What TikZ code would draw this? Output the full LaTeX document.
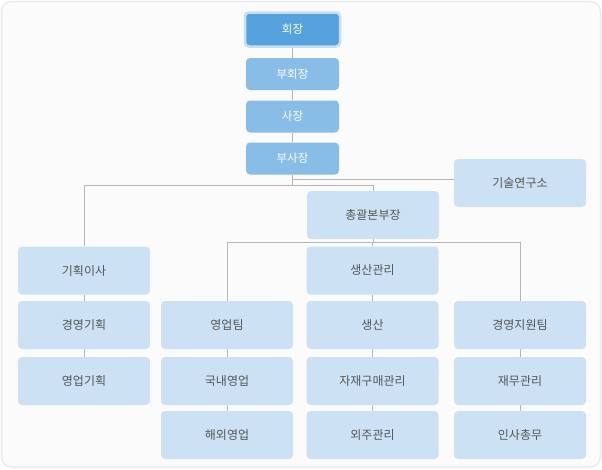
\documentclass[tikz,border=0pt]{standalone}
\usepackage{fontspec}
\newfontfamily\kr{Noto Sans CJK KR}
\definecolor{pagebg}{HTML}{FBFBFC}
\definecolor{frame}{HTML}{EBEBEB}
\definecolor{lightbox}{HTML}{CCE2F4}
\definecolor{midbox}{HTML}{88BDE7}
\definecolor{darkbox}{HTML}{55A2DC}
\definecolor{ring}{HTML}{C4DEF4}
\definecolor{linec}{HTML}{B5B5B5}
\definecolor{txt}{HTML}{555555}
\begin{document}
\begin{tikzpicture}[x=1pt,y=-1pt,
  lbox/.style={fill=lightbox, rounded corners=4pt, minimum width=132pt, minimum height=48pt, inner sep=0pt, text=txt, font=\kr\fontsize{12}{14}\selectfont},
  tbox/.style={fill=midbox, rounded corners=4pt, minimum width=93pt, minimum height=32pt, inner sep=0pt, text=white, font=\kr\fontsize{11.5}{14}\selectfont},
  conn/.style={draw=linec, line width=1pt}]
\useasboundingbox (0,0) rectangle (602,469);
\fill[white] (0,0) rectangle (602,469);
\draw[draw=frame, fill=pagebg, line width=1.5pt, rounded corners=10pt] (1.5,1.5) rectangle (600.5,467);
% top chain
\node[tbox, fill=darkbox, draw=ring, line width=2.5pt, minimum width=95pt, minimum height=34pt] (hj) at (292.5,29.5) {회장};
\node[tbox] (bhj) at (292.5,74) {부회장};
\node[tbox] (sj) at (292.5,116.5) {사장};
\node[tbox] (bsj) at (292.5,158.5) {부사장};
% level 2
\node[lbox] (gs) at (520,183) {기술연구소};
\node[lbox] (cg) at (373,215) {총괄본부장};
% column 1
\node[lbox] (ki) at (84,270.5) {기획이사};
\node[lbox] (kg) at (84,325) {경영기획};
\node[lbox] (yk) at (84,381) {영업기획};
% column 2
\node[lbox] (yt) at (227,325) {영업팀};
\node[lbox] (gn) at (227,381) {국내영업};
\node[lbox] (hw) at (227,435) {해외영업};
% column 3
\node[lbox] (sg) at (372.5,270.5) {생산관리};
\node[lbox] (ss) at (372.5,325) {생산};
\node[lbox] (jj) at (372.5,381) {자재구매관리};
\node[lbox] (oj) at (372.5,435) {외주관리};
% column 4
\node[lbox] (gj) at (520,325) {경영지원팀};
\node[lbox] (jm) at (520,381) {재무관리};
\node[lbox] (is) at (520,435) {인사총무};
% junctions
\coordinate (j1) at (292.5,179.5);
\coordinate (j2) at (292.5,185.5);
\coordinate (j3) at (373,242.5);
% connectors
\draw[conn] (hj.south) -- (bhj.north);
\draw[conn] (bhj.south) -- (sj.north);
\draw[conn] (sj.south) -- (bsj.north);
\draw[conn] (bsj.south) -- (j2);
\draw[conn] (j1) -- (j1 -| gs.west);
\draw[conn] (ki.north) |- (j2) -| (cg.north);
\draw[conn] (cg.south) -- (j3);
\draw[conn] (yt.north) |- (j3) -| (gj.north);
\draw[conn] (j3 -| sg.north) -- (sg.north);
\draw[conn] (ki.south) -- (kg.north);
\draw[conn] (kg.south) -- (yk.north);
\draw[conn] (yt.south) -- (gn.north);
\draw[conn] (gn.south) -- (hw.north);
\draw[conn] (sg.south) -- (ss.north);
\draw[conn] (ss.south) -- (jj.north);
\draw[conn] (jj.south) -- (oj.north);
\draw[conn] (gj.south) -- (jm.north);
\draw[conn] (jm.south) -- (is.north);
\end{tikzpicture}
\end{document}
